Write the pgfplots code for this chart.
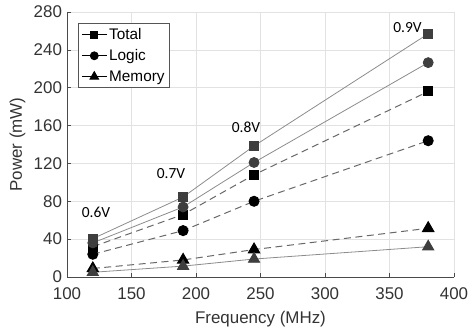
\documentclass[border=0pt]{standalone}
\usepackage{fontspec}
\setmainfont{Liberation Sans}
\newfontfamily\calib{Carlito}
\usepackage{pgfplots}
\pgfplotsset{compat=1.18}
\definecolor{gridc}{HTML}{E2E2E2}
\definecolor{axisc}{HTML}{4A4A4A}
\definecolor{labc}{HTML}{333333}
\definecolor{legc}{HTML}{555555}
\definecolor{solidl}{HTML}{8C8C8C}
\definecolor{solidm}{HTML}{3E3E3E}
\definecolor{dashl}{HTML}{686868}
\begin{document}
\begin{tikzpicture}
\begin{axis}[
  scale only axis, width=387bp, height=265bp,
  xmin=100, xmax=400, ymin=0, ymax=280,
  xtick={100,150,...,400}, ytick={0,40,...,280},
  axis lines=left, axis line style={-, draw=axisc, line width=0.8bp},
  tick align=inside, major tick length=4bp, tick style={axisc, line width=0.6bp},
  grid=major, grid style={gridc, line width=0.6bp},
  /pgf/number format/assume math mode=true,
  ticklabel style={font=\fontsize{17}{20}\selectfont, text=labc},
  xticklabel style={yshift=-7bp},
  yticklabel style={xshift=-1.5bp},
  label style={font=\fontsize{17}{20}\selectfont, text=labc},
  xlabel={Frequency (MHz)}, ylabel={Power (mW)},
  xlabel style={at={(axis description cs:0.5,-0.1736)}, anchor=base},
  ylabel style={at={(axis description cs:-0.1163,0.5)}, anchor=base},
  legend style={at={(0.0284,0.9585)}, anchor=north west, draw=legc, line width=0.8bp,
    font=\fontsize{15.4}{18}\selectfont, text=black, inner xsep=3bp, inner ysep=3bp, row sep=4.5bp},
  legend cell align=left,
  legend image code/.code={\draw[mark repeat=2,mark phase=2,#1] plot coordinates {(0bp,0bp)(12.5bp,0bp)(25bp,0bp)};},
]
\addlegendimage{black, line width=0.8bp, mark=square*, mark size=3.5bp}
\addlegendimage{black, line width=0.8bp, mark=*, mark size=4bp}
\addlegendimage{black, line width=0.8bp, mark=triangle*, mark size=5bp}
\legend{Total, Logic, Memory}

% dashed series
\addplot[forget plot, dashl, line width=1bp, dash pattern=on 7bp off 4.5bp, mark=square*, mark size=4.5bp, mark options={solid, fill=black, draw=black}]
  coordinates {(120,32)(190,66)(245,108)(380,196)};
\addplot[forget plot, dashl, line width=1bp, dash pattern=on 7bp off 4.5bp, mark=*, mark size=5bp, mark options={solid, fill=black, draw=black}]
  coordinates {(120,24)(190,49)(245,80)(380,144)};
\addplot[forget plot, dashl, line width=1bp, dash pattern=on 7bp off 4.5bp, mark=triangle*, mark size=6.5bp, mark options={solid, fill=black, draw=black}]
  coordinates {(120,9)(190,18)(245,29)(380,51.5)};
% solid series
\addplot[forget plot, solidl, line width=0.8bp, mark=square*, mark size=4.5bp, mark options={fill=solidm, draw=solidm}]
  coordinates {(120,40.5)(190,84.5)(245,138.5)(380,257)};
\addplot[forget plot, solidl, line width=0.8bp, mark=*, mark size=5bp, mark options={fill=solidm, draw=solidm}]
  coordinates {(120,36)(190,74)(245,121)(380,226.5)};
\addplot[forget plot, solidl, line width=0.8bp, mark=triangle*, mark size=6.5bp, mark options={fill=solidm, draw=solidm}]
  coordinates {(120,5)(190,11.5)(245,19)(380,32)};

\node[font=\calib\fontsize{15.5}{18}\selectfont] at (axis cs:122.5,68.7) {0.6V};
\node[font=\calib\fontsize{15.5}{18}\selectfont] at (axis cs:180.6,109) {0.7V};
\node[font=\calib\fontsize{15.5}{18}\selectfont] at (axis cs:238.8,158.6) {0.8V};
\node[font=\calib\fontsize{15.5}{18}\selectfont] at (axis cs:364,264) {0.9V};
\end{axis}
\pgfresetboundingbox
\path (current axis.south west) ++(-67bp,-56bp) (current axis.north east) ++(14bp,12bp);
\end{tikzpicture}
\end{document}
